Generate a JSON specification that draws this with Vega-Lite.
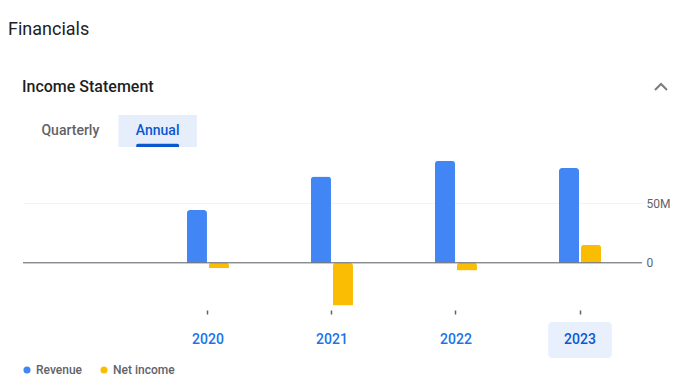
{
  "$schema": "https://vega.github.io/schema/vega-lite/v6.json",
  "autosize": {"type": "pad"},
  "padding": {"left": 8, "top": 21, "right": 0, "bottom": 0},
  "background": "#ffffff",
  "config": {
    "font": "Roboto",
    "view": {"stroke": null},
    "concat": {"spacing": 7}
  },
  "title": {"text": "Financials", "anchor": "start", "dx": -14, "fontSize": 18, "fontWeight": 400, "color": "#202124", "offset": 40},
  "datasets": {
    "fin": [
      {"year": "2020", "series": "Revenue", "value": 44300000},
      {"year": "2020", "series": "Net income", "value": -4500000},
      {"year": "2021", "series": "Revenue", "value": 72500000},
      {"year": "2021", "series": "Net income", "value": -35900000},
      {"year": "2022", "series": "Revenue", "value": 85700000},
      {"year": "2022", "series": "Net income", "value": -6500000},
      {"year": "2023", "series": "Revenue", "value": 79600000},
      {"year": "2023", "series": "Net income", "value": 15100000}
    ],
    "tabs": [{"tab": "Quarterly"}, {"tab": "Annual"}]
  },
  "vconcat": [
    {
      "spacing": 446,
      "hconcat": [
        {
          "title": {"text": "Income Statement", "anchor": "start", "dx": -1, "fontSize": 16, "fontWeight": 500, "color": "#1f1f1f", "offset": 20},
          "width": 182,
          "height": 32,
          "data": {"name": "tabs"},
          "encoding": {
            "x": {"field": "tab", "type": "nominal", "sort": ["Quarterly", "Annual"], "scale": {"domain": ["Quarterly", "Annual"], "paddingInner": 0, "paddingOuter": 0.0424}, "axis": null}
          },
          "layer": [
            {
              "transform": [{"filter": "datum.tab === 'Annual'"}],
              "mark": {"type": "bar", "width": {"band": 0.897}, "color": "#e6eefc"}
            },
            {
              "transform": [{"filter": "datum.tab === 'Annual'"}],
              "mark": {"type": "bar", "width": {"band": 0.49}, "color": "#0b57d0", "cornerRadiusTopLeft": 3, "cornerRadiusTopRight": 3},
              "encoding": {
                "y": {"datum": 0, "type": "quantitative", "scale": {"domain": [0, 10]}, "axis": null},
                "y2": {"datum": 1}
              }
            },
            {
              "mark": {"type": "text", "fontSize": 14, "fontWeight": 500},
              "encoding": {
                "text": {"field": "tab"},
                "color": {"condition": {"test": "datum.tab === 'Annual'", "value": "#0b57d0"}, "value": "#5f6368"}
              }
            }
          ]
        },
        {
          "width": 20,
          "height": 32,
          "data": {"values": [{}]},
          "mark": {"type": "point", "shape": "M-1,0.5L0,-0.5L1,0.5", "filled": false, "size": 144, "strokeWidth": 2, "color": "#444746"},
          "encoding": {
            "y": {"datum": 60, "type": "quantitative", "scale": {"domain": [0, 32]}, "axis": null}
          }
        }
      ]
    },
    {
      "width": 619,
      "height": 154,
      "data": {"name": "fin"},
      "layer": [
        {
          "mark": {"type": "bar", "cornerRadiusEnd": 3},
          "encoding": {
            "x": {
              "field": "year", "type": "ordinal",
              "scale": {"paddingInner": 0.3065, "paddingOuter": 0.649, "align": 0.882},
              "axis": {"labels": false, "domain": false, "ticks": true, "tickSize": 4, "tickWidth": 1.5, "tickColor": "#5f6368", "offset": 2, "title": null, "grid": false, "bandPosition": 0.5}
            },
            "xOffset": {"field": "series", "type": "nominal", "sort": ["Revenue", "Net income"], "scale": {"paddingInner": 0.0909, "paddingOuter": 1}},
            "y": {
              "field": "value", "type": "quantitative",
              "scale": {"domain": [-38000000, 91400000], "nice": false, "zero": false},
              "axis": {"orient": "right", "values": [0, 50000000], "labelExpr": "datum.value === 0 ? '0' : format(datum.value, '~s')", "grid": true, "gridColor": "#f1f3f4", "domain": false, "ticks": false, "labelPadding": 4, "labelColor": "#5f6368", "labelFontSize": 12, "title": null}
            },
            "color": {
              "field": "series", "type": "nominal",
              "scale": {"domain": ["Revenue", "Net income"], "range": ["#4285f4", "#fbbc04"]},
              "legend": {"orient": "bottom", "direction": "horizontal", "title": null, "symbolType": "circle", "symbolSize": 50, "symbolStrokeWidth": 0, "symbolOffset": -2, "labelFontSize": 12, "labelColor": "#5f6368", "labelFontWeight": 500, "columnPadding": 18, "labelOffset": 3, "offset": 6}
            }
          }
        },
        {
          "data": {"values": [{}]},
          "mark": {"type": "rule", "color": "#5f6368", "strokeWidth": 1},
          "encoding": {"y": {"datum": 0}}
        }
      ]
    },
    {
      "width": 619,
      "height": 36,
      "data": {"name": "fin"},
      "transform": [{"filter": "datum.series === 'Revenue'"}],
      "encoding": {
        "x": {"field": "year", "type": "ordinal", "scale": {"paddingInner": 0.3065, "paddingOuter": 0.649, "align": 0.882}, "axis": null}
      },
      "layer": [
        {
          "transform": [{"filter": "datum.year === '2023'"}],
          "mark": {"type": "bar", "width": {"band": 0.74}, "color": "#e8f0fe", "cornerRadius": 4}
        },
        {
          "mark": {"type": "text", "fontSize": 14, "fontWeight": 500},
          "encoding": {
            "text": {"field": "year"},
            "color": {"condition": {"test": "datum.year === '2023'", "value": "#0b57d0"}, "value": "#1a73e8"}
          }
        }
      ]
    }
  ]
}
